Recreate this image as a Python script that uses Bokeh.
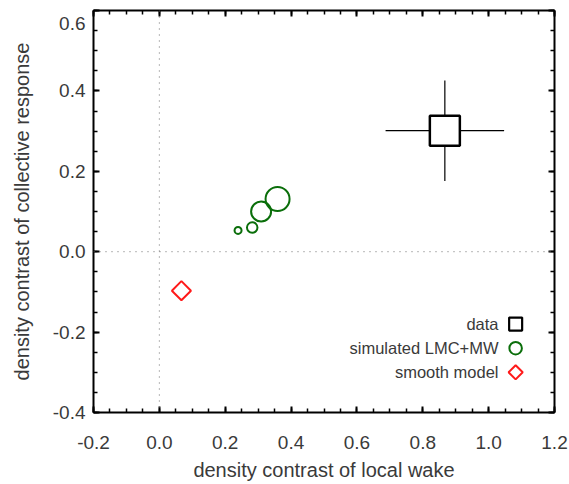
import math
from bokeh.plotting import figure
from bokeh.models import LinearAxis, Span, Range1d, CustomJSTickFormatter, FixedTicker
from bokeh.core.properties import value
from bokeh.embed import file_html
from bokeh.resources import INLINE

# ---- data ----
data_x = [0.867]
data_y = [0.301]
data_xerr = [0.18]
data_yerr = [0.125]

sim_x = [0.239, 0.282, 0.309, 0.359]
sim_y = [0.053, 0.060, 0.100, 0.131]
sim_size = [7, 10.5, 20, 24]

smooth_x = [0.067]
smooth_y = [-0.097]

legend_labels = ["data", "simulated LMC+MW", "smooth model"]

x_ticks = [-0.2, 0.0, 0.2, 0.4, 0.6, 0.8, 1.0, 1.2]
y_ticks = [-0.4, -0.2, 0.0, 0.2, 0.4, 0.6]
x_minor = [round(-0.2 + 0.05 * i, 2) for i in range(29)]
y_minor = [round(-0.4 + 0.05 * i, 2) for i in range(21)]

FONT = "Liberation Sans"
TXT = "#3a3a3a"
GREEN = "#0a6e0a"
RED = "#ff1a1a"

p = figure(width=569, height=484, output_backend="svg", toolbar_location=None,
           x_range=Range1d(-0.2, 1.2), y_range=Range1d(-0.4, 0.6),
           min_border_left=93, min_border_right=15, min_border_top=10, min_border_bottom=72)
p.grid.visible = False
p.outline_line_color = None
p.background_fill_color = "white"
p.border_fill_color = "white"

def style_axis(ax, labels=True):
    ax.axis_line_width = 2
    ax.axis_line_color = "black"
    ax.major_tick_in = 6
    ax.major_tick_out = 0
    ax.minor_tick_in = 4
    ax.minor_tick_out = 0
    ax.major_tick_line_width = 2
    ax.minor_tick_line_width = 1.5
    ax.major_tick_line_color = "black"
    ax.minor_tick_line_color = "black"
    ax.major_label_text_font = FONT
    ax.major_label_text_color = TXT
    ax.axis_label_text_font = FONT
    ax.axis_label_text_color = TXT
    ax.axis_label_text_font_style = "normal"
    ax.axis_label_text_font_size = "20px"
    ax.major_label_text_font_size = "19px"
    if not labels:
        ax.formatter = CustomJSTickFormatter(code="return ''")
        ax.major_label_text_font_size = "0px"
        ax.major_label_standoff = 0

p.xaxis.ticker = FixedTicker(ticks=x_ticks, minor_ticks=x_minor)
p.yaxis.ticker = FixedTicker(ticks=y_ticks, minor_ticks=y_minor)
p.xaxis.formatter = CustomJSTickFormatter(code="return tick.toFixed(1)")
# the top label sits just below its tick, inside the canvas (as in the original)
p.yaxis.formatter = CustomJSTickFormatter(
    code="return Math.abs(tick - 0.6) < 1e-6 ? '\\n' + tick.toFixed(1) : tick.toFixed(1)")
style_axis(p.xaxis[0])
style_axis(p.yaxis[0])
p.yaxis.major_label_text_line_height = 0.6
p.xaxis.axis_label = "density contrast of local wake"
p.yaxis.axis_label = "density contrast of collective response"
p.xaxis.major_label_standoff = 23
p.xaxis.axis_label_standoff = 7
p.yaxis.major_label_standoff = 8
p.yaxis.axis_label_standoff = 17

top = LinearAxis(ticker=FixedTicker(ticks=x_ticks, minor_ticks=x_minor))
right = LinearAxis(ticker=FixedTicker(ticks=y_ticks, minor_ticks=y_minor))
style_axis(top, labels=False)
style_axis(right, labels=False)
p.add_layout(top, "above")
p.add_layout(right, "right")

# zero lines
p.add_layout(Span(location=0, dimension="height", line_color="#707070",
                  line_dash="1 5", line_width=1))
p.add_layout(Span(location=0, dimension="width", line_color="#707070",
                  line_dash="1 5", line_width=1))

# data with error bars
p.segment(x0=[x - e for x, e in zip(data_x, data_xerr)], y0=data_y,
          x1=[x + e for x, e in zip(data_x, data_xerr)], y1=data_y,
          line_color="black", line_width=1.2)
p.segment(x0=data_x, y0=[y - e for y, e in zip(data_y, data_yerr)],
          x1=data_x, y1=[y + e for y, e in zip(data_y, data_yerr)],
          line_color="black", line_width=1.2)
p.scatter(data_x, data_y, marker="square", size=30, fill_color="white",
          line_color="black", line_width=2.5)

# simulated
p.scatter(sim_x, sim_y, marker="circle", size=sim_size, fill_color=None,
          line_color=GREEN, line_width=2)

# smooth model (square rotated by 45 degrees)
p.scatter(smooth_x, smooth_y, marker="square", size=13.5, angle=math.pi / 4,
          fill_color=None, line_color=RED, line_width=2)

# legend (label on the left, symbol on the right)
leg_text_x = 1.030
leg_mark_x = 1.082
leg_y = [-0.180, -0.240, -0.300]
p.text(x=[leg_text_x] * 3, y=leg_y, text=legend_labels, text_align="right",
       text_baseline="middle", text_font=value(FONT), text_font_size="16.5px",
       text_color=TXT)
p.scatter([leg_mark_x], [leg_y[0]], marker="square", size=13, fill_color="white",
          line_color="black", line_width=2.2)
p.scatter([leg_mark_x], [leg_y[1]], marker="circle", size=12.5, fill_color=None,
          line_color=GREEN, line_width=2)
p.scatter([leg_mark_x], [leg_y[2]], marker="square", size=10, angle=math.pi / 4,
          fill_color=None, line_color=RED, line_width=2)

open("out.html", "w").write(file_html(p, INLINE))
